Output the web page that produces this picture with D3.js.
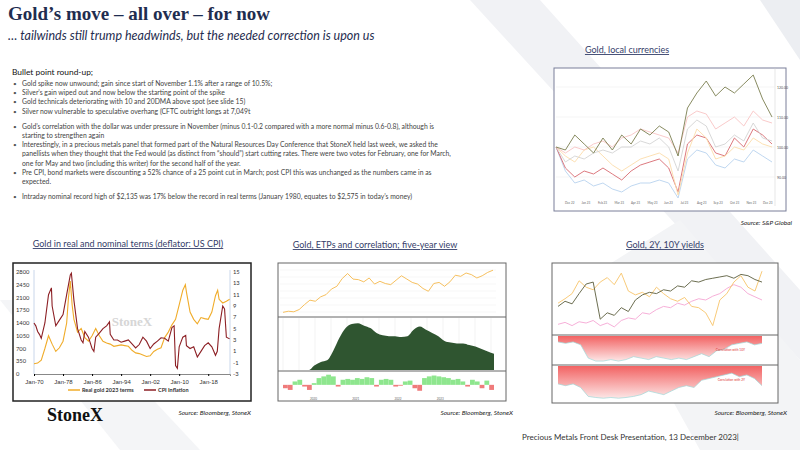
<!DOCTYPE html>
<html><head><meta charset="utf-8">
<script src="https://cdn.jsdelivr.net/npm/d3@7"></script>
<style>body{margin:0;background:#fff}svg{display:block;font-family:Lato,"Open Sans",sans-serif}</style>
</head><body><svg id="s" width="800" height="450"></svg>
<script>
// ---- data ----
var bullets = [
  ["Gold spike now unwound; gain since start of November 1.1% after a range of 10.5%;"],
  ["Silver\u2019s gain wiped out and now below the starting point of the spike"],
  ["Gold technicals deteriorating with 10 and 20DMA above spot (see slide 15)"],
  ["Silver now vulnerable to speculative overhang (CFTC outright longs at 7,049t"],
  null,
  ["Gold\u2019s correlation with the dollar was under pressure in November (minus 0.1-0.2 compared with a more normal minus 0.6-0.8), although is", "starting to strengthen again"],
  ["Interestingly, in a precious metals panel that formed part of the Natural Resources Day Conference that StoneX held last week, we asked the", "panellists when they thought that the Fed would (as distinct from \u201cshould\u201d) start cutting rates.  There were two votes for February, one for March,", "one for May and two (including this writer) for the second half of the year."],
  ["Pre CPI, bond markets were discounting a 52% chance of a 25 point cut in March; post CPI this was unchanged as the numbers came in as", "expected."],
  null,
  ["Intraday nominal record high of $2,135 was 17% below the record in real terms (January 1980, equates to $2,575 in today\u2019s money)"]
];

// real/nominal chart (year, value)
var realYears = [1970,1971,1972,1973,1974,1975,1976,1977,1978,1979,1979.5,1980,1980.5,1981,1982,1983,1984,1985,1986,1987,1988,1989,1990,1991,1992,1993,1994,1995,1996,1997,1998,1999,2000,2001,2002,2003,2004,2005,2006,2007,2008,2009,2010,2011,2011.7,2012,2013,2014,2015,2016,2017,2018,2019,2020,2020.6,2021,2022,2023,2023.9];
var realGold  = [280,300,380,700,1050,820,620,720,900,1400,2100,2550,1900,1500,1150,1250,1000,900,1050,1250,1050,900,850,820,760,780,800,780,760,650,580,560,520,480,500,620,680,720,1000,1150,1350,1500,1900,2300,2450,2250,1700,1500,1380,1550,1520,1500,1700,2150,2300,2050,1950,2000,2050];
var cpiYears  = [1970,1970.5,1971,1971.5,1972,1973,1974,1974.8,1975,1976,1977,1978,1979,1980,1980.3,1981,1982,1983,1983.5,1984,1985,1986,1986.5,1987,1988,1989,1990,1990.8,1991,1992,1993,1994,1995,1996,1997,1998,1999,2000,2001,2002,2003,2004,2005,2006,2007,2008,2008.6,2009,2009.5,2010,2011,2011.8,2012,2013,2014,2015,2016,2017,2018,2019,2020,2020.5,2021,2022,2022.5,2023,2023.9];
var cpi       = [6,5.5,4.5,4,3.3,6,11,12.2,9,5.5,6.5,7.5,11,14.5,14.8,10,5,3,2.5,4.5,3.5,1.5,1,3.5,4.2,5,5.5,6.2,4,3,3,2.6,2.8,3,2.3,1.6,2.2,3.5,2.8,1.5,2.3,2.8,3.4,3.3,2.8,5.2,5.5,-1.5,-2,1.8,3.5,3.8,2,1.5,1.8,0,1,2,2.5,1.8,0.3,1,5,9,8.5,3.5,3.2];
var realTicksL = [0,350,700,1050,1400,1750,2100,2450,2800];
var realTicksR = [-3,-1,1,3,5,7,9,11,13,15];
var realTicksX = [1970,1978,1986,1994,2002,2010,2018];

// local currencies (index, 24 steps)
var lcSeries = [
  {c:"#7b7e4f", v:[100,99,104,101,98,103,99,104,101,106,104,107,105,97,113,118,122,117,120,118,121,124,116,110]},
  {c:"#f8c4c4", v:[100,98,100,99,101,102,100,103,104,106,105,104,103,98,110,112,111,106,108,110,107,112,109,108]},
  {c:"#d4d4d4", v:[100,95,97,96,98,99,98,100,100,102,101,103,100,92,106,109,107,100,101,104,102,108,103,102]},
  {c:"#fcdcaa", v:[100,97,95,99,100,97,94,92,94,96,97,98,96,84,98,106,103,96,97,100,99,103,101,100]},
  {c:"#d86a70", v:[100,93,90,92,91,93,91,89,92,94,95,96,93,85,101,104,103,98,97,103,100,106,104,101]},
  {c:"#b8d2ee", v:[100,92,88,89,87,88,86,85,87,88,88,89,88,83,96,99,98,94,93,96,95,99,97,95]}
];
var lcTicks = [90,100,110,120];
var lcMonths = ["Dec 22","Jan 23","Feb 23","Mar 23","Apr 23","May 23","Jun 23","Jul 23","Aug 23","Sep 23","Oct 23","Nov 23","Dec 23"];

// five-year view
var etpGold = [1280,1300,1290,1330,1420,1500,1480,1560,1600,1700,1750,1890,1980,1880,1870,1830,1900,1790,1840,1800,1780,1860,1940,1880,1820,1790,1710,1660,1800,1820,1750,1830,1950,1930,1990,1960,1900,1940,2000,2040];
var etpHold = [0,0,0,0,0.3,0.5,0.6,1.2,2.0,2.6,2.85,2.9,2.75,2.6,2.3,2.15,2.1,2.1,2.05,2.1,2.5,2.7,2.5,2.3,2.1,1.8,1.7,1.65,1.65,1.55,1.45,1.3,1.15,1.0];
var etpCorr = [-0.2,-0.3,0.2,0.3,-0.1,-0.3,0.1,0.4,0.5,0.6,0.5,-0.1,0.3,0.35,0.3,0.4,0.35,0.45,0.4,-0.1,0.3,0.35,0.3,-0.1,-0.05,0.2,0.25,-0.2,-0.35,0.4,0.5,0.55,0.5,0.45,0.4,0.3,0.35,0.2,-0.1,0.3,0.2,-0.2,0.25,-0.3];
var etpYears = [2019,2020,2021,2022,2023];

// yields chart
var yGold = [40,48,44,60,75,78,20,30,26,38,32,50,58,62,60,66,64,72,70,80,78,82,84,86,88,84,90,88,82,78];
var y2Y   = [45,52,60,80,70,66,78,85,74,92,64,58,62,55,70,60,52,48,54,40,38,30,10,50,60,78,88,70,64,95];
var y10Y  = [12,15,10,16,14,18,10,14,8,18,22,20,30,28,35,40,38,45,42,48,52,50,56,60,68,74,70,60,55,50];
var corr10 = [-0.2,-0.25,-0.2,-0.3,-0.75,-0.85,-0.85,-0.8,-0.85,-0.8,-0.7,-0.75,-0.8,-0.7,-0.75,-0.8,-0.75,-0.8,-0.7,-0.6,-0.7,-0.5,-0.45,-0.3,-0.25,-0.2,-0.3,-0.25];
var corr2  = [-0.5,-0.55,-0.5,-0.6,-0.85,-0.88,-0.9,-0.88,-0.9,-0.88,-0.85,-0.8,-0.7,-0.75,-0.8,-0.7,-0.6,-0.55,-0.6,-0.4,-0.35,-0.3,-0.25,-0.2,-0.3,-0.25,-0.35,-0.55];

var svg = d3.select("#s");
var navy = "#1f2d50";

// watermark shapes
svg.append("path").attr("d","M470,0 L540,0 L800,290 L800,360 Z").attr("fill","#f1f2f5");
svg.append("path").attr("d","M0,300 L60,300 L200,450 L120,450 Z").attr("fill","#f4f5f7");
svg.append("path").attr("d","M760,0 L800,0 L800,60 Z").attr("fill","#eceef2");
svg.append("path").attr("d","M600,270 L680,220 L800,360 L800,450 L700,450 Z").attr("fill","#f3f4f6");

// title
svg.append("text").attr("x",8).attr("y",20).attr("font-family","Liberation Serif,serif")
  .attr("font-weight","bold").attr("font-size",19).attr("fill",navy).text("Gold\u2019s move \u2013 all over \u2013 for now");
svg.append("text").attr("x",8).attr("y",40).attr("font-style","italic").attr("font-size",12.5)
  .attr("fill",navy).text("\u2026 tailwinds still trump headwinds, but the needed correction is upon us");

// bullets
svg.append("text").attr("x",12).attr("y",75).attr("font-size",8.4).attr("fill","#111").text("Bullet point round-up;");
var by = 86;
bullets.forEach(function(b){
  if (!b) { by += 6; return; }
  svg.append("text").attr("x",13).attr("y",by).attr("font-size",6.5).attr("fill","#555").text("\u2022");
  b.forEach(function(line){
    svg.append("text").attr("x",22).attr("y",by).attr("font-size",6.8).attr("fill","#444").text(line);
    by += 9.2;
  });
});

function title(x, y, t) {
  svg.append("text").attr("x",x).attr("y",y).attr("text-anchor","middle").attr("font-size",9)
    .attr("fill","#35406a").attr("text-decoration","underline").text(t);
}
function source(x, y, t) {
  svg.append("text").attr("x",x).attr("y",y).attr("text-anchor","end").attr("font-size",6.5)
    .attr("font-style","italic").attr("fill","#222").text(t);
}
function box(x0,y0,x1,y1,sw,col) {
  svg.append("rect").attr("x",x0).attr("y",y0).attr("width",x1-x0).attr("height",y1-y0)
    .attr("fill","#fff").attr("stroke",col||"#555").attr("stroke-width",sw||1);
}

// ---- top right: gold local currencies ----
title(627,53,"Gold, local currencies");
box(554,68,786,211,1,"#7a7f99");
var lx = d3.scaleLinear().domain([0,23]).range([556,772]);
var ly = d3.scaleLinear().domain([80,125]).range([207,72]);
svg.append("line").attr("x1",775).attr("x2",775).attr("y1",68).attr("y2",206).attr("stroke","#ccc").attr("stroke-width",0.5);
lcTicks.forEach(function(t){
  svg.append("line").attr("x1",556).attr("x2",775).attr("y1",ly(t)).attr("y2",ly(t)).attr("stroke","#e8e8e8").attr("stroke-width",0.5);
  svg.append("text").attr("x",777).attr("y",ly(t)+1.5).attr("font-size",3.5).attr("fill","#555").text(t.toFixed(2));
});
lcSeries.slice().reverse().forEach(function(s){
  svg.append("path").attr("d",d3.line().x(function(d,i){return lx(i);}).y(function(d){return ly(d);})(s.v))
    .attr("fill","none").attr("stroke",s.c).attr("stroke-width",0.9);
});
lcMonths.forEach(function(m,i){
  svg.append("text").attr("x",565+i*16.5).attr("y",204).attr("font-size",3).attr("fill","#666").text(m);
});
source(792,225,"Source:  S&P Global");

// ---- bottom left: real & nominal ----
title(128,247,"Gold in real and nominal terms (deflator: US CPI)");
box(13,263,251,401,1.5,"#222");
var rx = d3.scaleLinear().domain([1970,2024]).range([34,230]);
var ryL = d3.scaleLinear().domain([0,2800]).range([374,272]);
var ryR = d3.scaleLinear().domain([-3,15]).range([374,272]);
svg.append("g").attr("transform","translate(0,374)").call(d3.axisBottom(rx).tickValues(realTicksX).tickSize(2)
  .tickFormat(function(d){return "Jan-"+String(d).slice(2);}))
  .call(function(g){g.selectAll("text").attr("font-size",6).attr("fill","#333").attr("dy","0.9em");g.select(".domain").attr("stroke","#888");});
svg.append("line").attr("x1",34).attr("x2",34).attr("y1",270).attr("y2",374).attr("stroke","#c9d6ea");
svg.append("line").attr("x1",230).attr("x2",230).attr("y1",270).attr("y2",374).attr("stroke","#c9d6ea");
realTicksL.forEach(function(t){svg.append("text").attr("x",16).attr("y",ryL(t)+2).attr("font-size",5.8).attr("fill","#333").text(t);});
realTicksR.forEach(function(t){svg.append("text").attr("x",233).attr("y",ryR(t)+2).attr("font-size",5.8).attr("fill","#333").text(t);});
svg.append("text").attr("x",132).attr("y",326).attr("text-anchor","middle").attr("font-family","Liberation Serif,serif")
  .attr("font-weight","bold").attr("font-size",13).attr("fill","#d6d6d6").text("StoneX");
svg.append("path").attr("d",d3.line().x(function(d,i){return rx(realYears[i]);}).y(function(d){return ryL(d);})(realGold))
  .attr("fill","none").attr("stroke","#f0ac2a").attr("stroke-width",1.1);
svg.append("path").attr("d",d3.line().x(function(d,i){return rx(cpiYears[i]);}).y(function(d){return ryR(d);})(cpi))
  .attr("fill","none").attr("stroke","#8c1f24").attr("stroke-width",1.1);
[["Real gold 2023 terms","#f0ac2a",68],["CPI Inflation","#8c1f24",144]].forEach(function(l){
  svg.append("line").attr("x1",l[2]).attr("x2",l[2]+12).attr("y1",390).attr("y2",390).attr("stroke",l[1]).attr("stroke-width",1.5);
  svg.append("text").attr("x",l[2]+14).attr("y",392).attr("font-size",5.5).attr("font-weight","bold").attr("fill","#333").text(l[0]);
});
svg.append("text").attr("x",47).attr("y",421).attr("font-family","Liberation Serif,serif").attr("font-weight","bold")
  .attr("font-size",18).attr("fill","#111").text("StoneX");
source(251,415,"Source:  Bloomberg,  StoneX");

// ---- middle: ETPs ----
title(375,248,"Gold, ETPs and correlation; five-year view");
box(278,263,506,401,1,"#666");
var ex = d3.scaleLinear().domain([0,39]).range([283,493]);
var eyG = d3.scaleLinear().domain([1250,2080]).range([314,268]);
svg.append("line").attr("x1",278).attr("x2",506).attr("y1",317).attr("y2",317).attr("stroke","#666");
svg.append("line").attr("x1",278).attr("x2",506).attr("y1",371).attr("y2",371).attr("stroke","#666");
d3.range(7).forEach(function(i){
  svg.append("line").attr("x1",280).attr("x2",496).attr("y1",270+i*7).attr("y2",270+i*7).attr("stroke","#eee").attr("stroke-width",0.5);
});
svg.append("path").attr("d",d3.line().x(function(d,i){return ex(i);}).y(function(d){return eyG(d);})(etpGold))
  .attr("fill","none").attr("stroke","#f5b94d").attr("stroke-width",0.9);
var hx = d3.scaleLinear().domain([0,etpHold.length-1]).range([290,494]);
var hy = d3.scaleLinear().domain([0,3.1]).range([370,320]);
d3.range(14).forEach(function(i){
  svg.append("line").attr("x1",283+i*16).attr("x2",283+i*16).attr("y1",318).attr("y2",370).attr("stroke","#e4e4e4").attr("stroke-width",0.5);
});
svg.append("path").attr("d",d3.area().curve(d3.curveMonotoneX).x(function(d,i){return hx(i);}).y0(370).y1(function(d){return hy(d);})(etpHold))
  .attr("fill","#2f5530");
var cx = d3.scaleBand().domain(d3.range(etpCorr.length)).range([283,494]).padding(0);
var cy = d3.scaleLinear().domain([-0.6,0.7]).range([395,373]);
etpCorr.forEach(function(v,i){
  svg.append("rect").attr("x",cx(i)).attr("width",cx.bandwidth()).attr("y",v>0?cy(v):cy(0)).attr("height",Math.abs(cy(v)-cy(0)))
    .attr("fill",v>0?"#8ee68e":"#ef7b7b");
});
var xYear = d3.scaleLinear().domain([2019,2023]).range([310,479]);
etpYears.slice(0,4).forEach(function(y){
  svg.append("text").attr("x",xYear(y)).attr("y",399.5).attr("font-size",3).attr("fill","#666").text(y+1);
});
source(513,415,"Source:  Bloomberg,  StoneX");

// ---- right: yields ----
title(665,248,"Gold, 2Y, 10Y yields");
box(552,263,778,403,1,"#666");
svg.append("line").attr("x1",552).attr("x2",778).attr("y1",335).attr("y2",335).attr("stroke","#666");
svg.append("line").attr("x1",552).attr("x2",778).attr("y1",365).attr("y2",365).attr("stroke","#666");
var yx = d3.scaleLinear().domain([0,29]).range([558,762]);
var yy = d3.scaleLinear().domain([0,100]).range([332,268]);
[[y10Y,"#f5a6d4"],[y2Y,"#f7c46a"],[yGold,"#5b5e3d"]].forEach(function(s){
  svg.append("path").attr("d",d3.line().x(function(d,i){return yx(i);}).y(function(d){return yy(d);})(s[0]))
    .attr("fill","none").attr("stroke",s[1]).attr("stroke-width",0.9);
});
var grad = svg.append("defs").append("linearGradient").attr("id","rg").attr("x1",0).attr("y1",0).attr("x2",0).attr("y2",1);
grad.append("stop").attr("offset","0%").attr("stop-color","#f26262");
grad.append("stop").attr("offset","100%").attr("stop-color","#fde6e6");
var cxr = d3.scaleLinear().domain([0,corr10.length-1]).range([558,762]);
[[corr10,336,364],[corr2,366,400]].forEach(function(p){
  var py = d3.scaleLinear().domain([-0.95,0]).range([p[2],p[1]]);
  svg.append("path").attr("d",d3.area().x(function(d,i){return cxr(i);}).y0(p[1]).y1(function(d){return py(d);})(p[0]))
    .attr("fill","url(#rg)");
  svg.append("path").attr("d",d3.line().x(function(d,i){return cxr(i);}).y(function(d){return py(d);})(p[0]))
    .attr("fill","none").attr("stroke","#9fd8d8").attr("stroke-width",0.7);
});
svg.append("text").attr("x",745).attr("y",351).attr("font-size",3.2).attr("fill","#d33").attr("text-anchor","end").text("Correlation with 10Y");
svg.append("text").attr("x",745).attr("y",381).attr("font-size",3.2).attr("fill","#d33").attr("text-anchor","end").text("Correlation with 2Y");
source(787,415,"Source:  Bloomberg,  StoneX");

// footer
svg.append("text").attr("x",522).attr("y",440).attr("font-size",8).attr("fill","#333").text("Precious Metals Front Desk Presentation, 13 December 2023|");
</script></body></html>
